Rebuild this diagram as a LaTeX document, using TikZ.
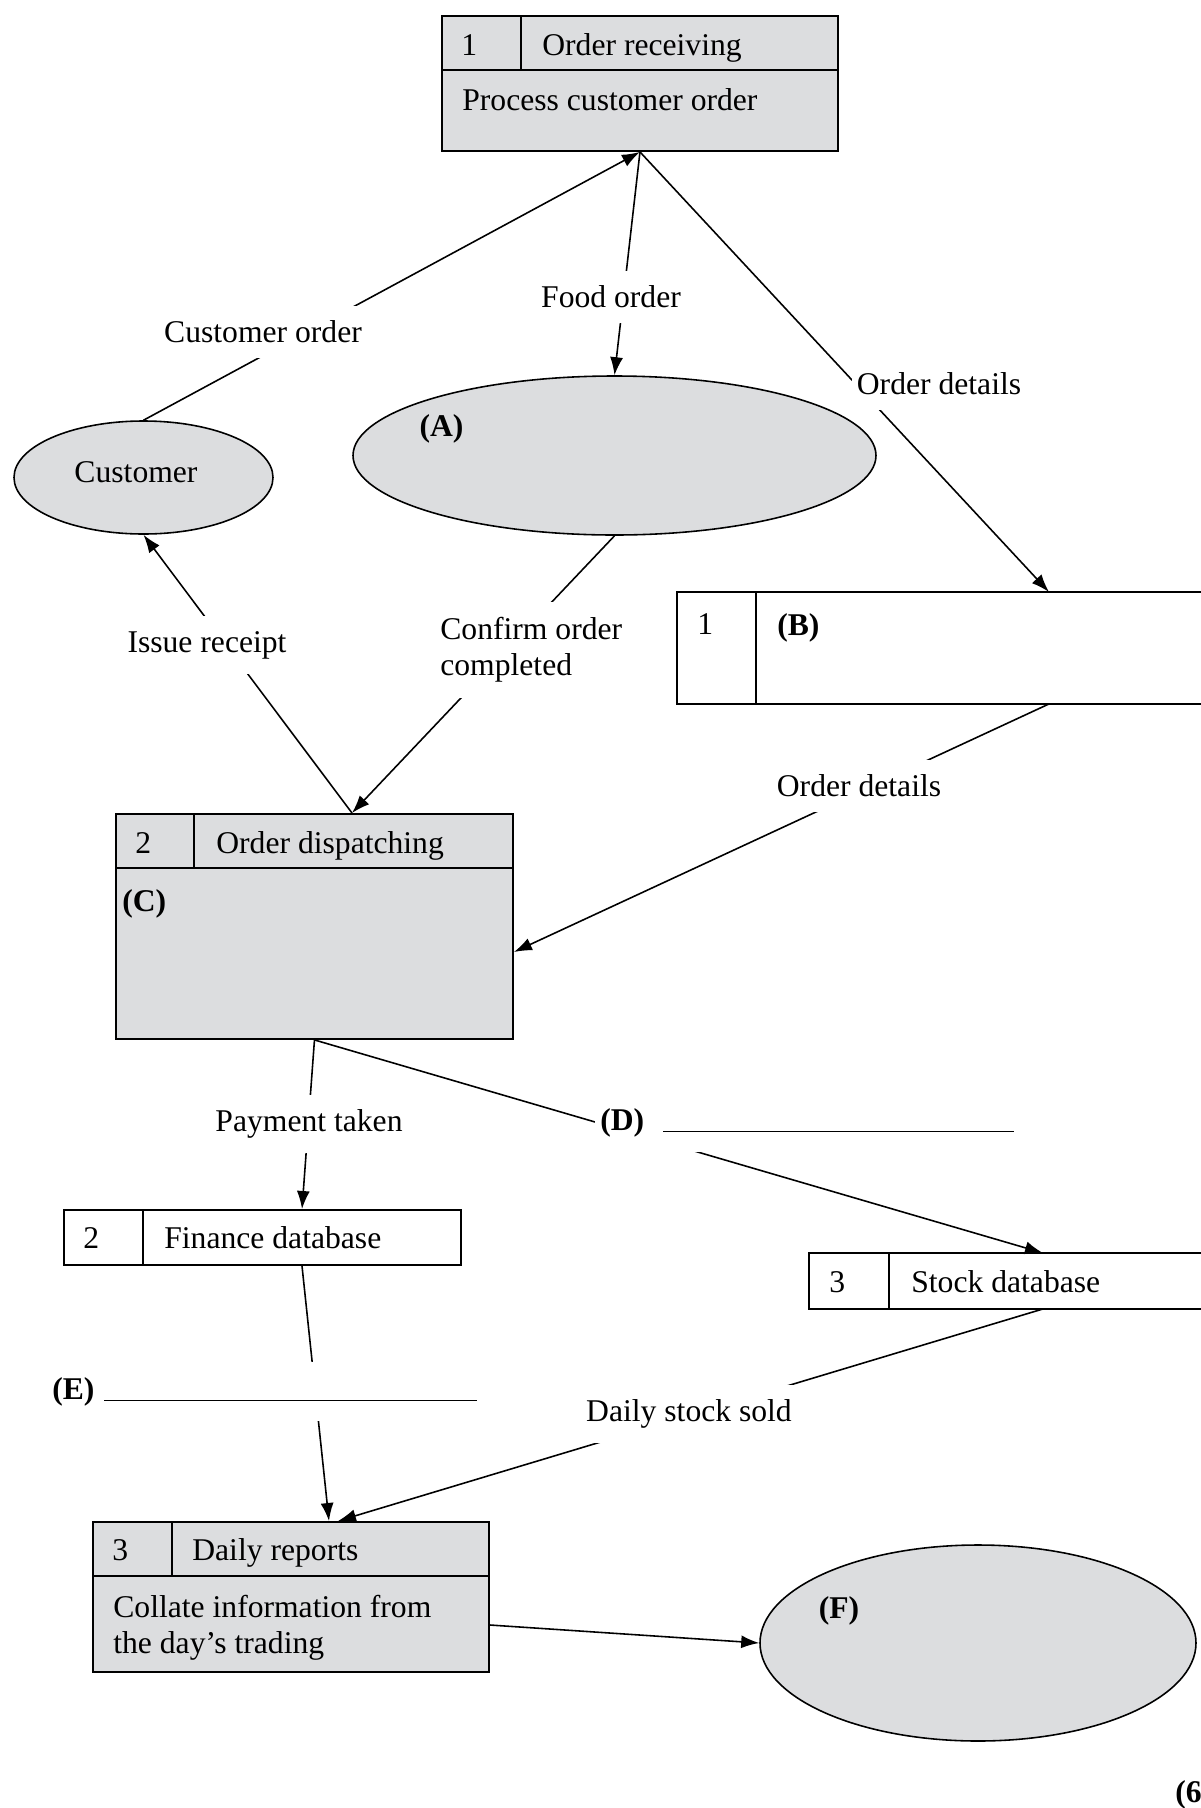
\documentclass[tikz,border=0pt]{standalone}
\usepackage{fontspec}
\setmainfont{Liberation Serif}
\usetikzlibrary{shapes.geometric,arrows.meta}
\definecolor{boxgray}{RGB}{220,221,223}
\tikzset{
  procbox/.style={draw, line width=1.1pt, fill=boxgray, inner sep=0pt, anchor=north west},
  storebox/.style={line width=1.1pt, fill=white, inner sep=0pt, anchor=north west},
  part/.style={line width=1.1pt},
  entity/.style={ellipse, draw, line width=0.9pt, fill=boxgray, inner sep=0pt},
  txt/.style={inner sep=0pt, anchor=base west},
  lbl/.style={fill=white, inner xsep=0.1cm, inner ysep=0.3cm},
  flow/.style={line width=0.9pt, -{Latex[length=0.36cm,width=0.26cm]}}
}
\begin{document}
\begin{tikzpicture}[font=\fontsize{18}{20.5}\selectfont]
\useasboundingbox (0,0) rectangle (24.02,-36.16);

% process 1
\node[procbox, minimum width=7.92cm, minimum height=2.70cm] (recv) at (8.82,-0.30) {};
\draw[part] ([yshift=-1.10cm]recv.north west) -- ([yshift=-1.10cm]recv.north east);
\draw[part] ([xshift=1.60cm]recv.north west) -- ++(0,-1.10);
\node[txt] (recvnum) at ([shift={(0.40,-0.80)}]recv.north west) {1};
\node[txt] (recvname) at ([shift={(2.02,-0.80)}]recv.north west) {Order receiving};
\node[txt] (recvdesc) at ([shift={(0.42,-1.90)}]recv.north west) {Process customer order};

% entities
\node[entity, minimum width=5.18cm, minimum height=2.26cm] (cust) at (2.87,-9.55) {};
\node[inner sep=0pt] (custtxt) at (2.72,-9.44) {Customer};
\node[entity, minimum width=10.46cm, minimum height=3.18cm] (entA) at (12.29,-9.11) {};
\node[inner sep=0pt] (entAtxt) at (8.83,-8.58) {\textbf{(A)}};

% data store 1
\node[storebox, minimum width=10.6cm, minimum height=2.20cm] (storeB) at (13.54,-11.84) {};
\draw[part] (storeB.north east) -- (storeB.north west) -- (storeB.south west) -- (storeB.south east);
\draw[part] ([xshift=1.58cm]storeB.north west) -- ([xshift=1.58cm]storeB.south west);
\node[txt] (storeBnum) at ([shift={(0.40,-0.84)}]storeB.north west) {1};
\node[txt] (storeBtxt) at ([shift={(2.00,-0.86)}]storeB.north west) {\textbf{(B)}};

% process 2
\node[procbox, minimum width=7.94cm, minimum height=4.50cm] (disp) at (2.30,-16.26) {};
\draw[part] ([yshift=-1.10cm]disp.north west) -- ([yshift=-1.10cm]disp.north east);
\draw[part] ([xshift=1.58cm]disp.north west) -- ++(0,-1.10);
\node[txt] (dispnum) at ([shift={(0.40,-0.80)}]disp.north west) {2};
\node[txt] (dispname) at ([shift={(2.02,-0.80)}]disp.north west) {Order dispatching};
\node[txt] (disptxt) at ([shift={(0.14,-1.96)}]disp.north west) {\textbf{(C)}};

% data stores 2 and 3
\node[storebox, draw, minimum width=7.94cm, minimum height=1.10cm] (fin) at (1.26,-24.18) {};
\draw[part] ([xshift=1.60cm]fin.north west) -- ([xshift=1.60cm]fin.south west);
\node[txt] (finnum) at ([shift={(0.40,-0.78)}]fin.north west) {2};
\node[txt] (finname) at ([shift={(2.02,-0.78)}]fin.north west) {Finance database};

\node[storebox, minimum width=8.4cm, minimum height=1.08cm] (stock) at (16.18,-25.06) {};
\draw[part] (stock.north east) -- (stock.north west) -- (stock.south west) -- (stock.south east);
\draw[part] ([xshift=1.60cm]stock.north west) -- ([xshift=1.60cm]stock.south west);
\node[txt] (stocknum) at ([shift={(0.40,-0.78)}]stock.north west) {3};
\node[txt] (stockname) at ([shift={(2.04,-0.78)}]stock.north west) {Stock database};

% process 3
\node[procbox, minimum width=7.92cm, minimum height=3.00cm] (rep) at (1.84,-30.42) {};
\draw[part] ([yshift=-1.10cm]rep.north west) -- ([yshift=-1.10cm]rep.north east);
\draw[part] ([xshift=1.60cm]rep.north west) -- ++(0,-1.10);
\node[txt] (repnum) at ([shift={(0.40,-0.78)}]rep.north west) {3};
\node[txt] (repname) at ([shift={(2.00,-0.78)}]rep.north west) {Daily reports};
\node[txt, anchor=west, align=left] (repdesc) at ([shift={(0.42,-2.13)}]rep.north west) {Collate information from\\the day’s trading};

\node[entity, minimum width=8.72cm, minimum height=3.92cm] (entF) at (19.56,-32.86) {};
\node[inner sep=0pt] (entFtxt) at (16.78,-32.22) {\textbf{(F)}};

% connector ends
\coordinate (dispin) at ([xshift=4.74cm]disp.north west);
\coordinate (dispside) at ([yshift=-2.78cm]disp.north east);
\coordinate (storeBin) at ([xshift=7.44cm]storeB.north west);
\coordinate (storeBout) at ([xshift=7.44cm]storeB.south west);
\coordinate (finin) at ([xshift=4.78cm]fin.north west);
\coordinate (finout) at ([xshift=4.78cm]fin.south west);
\coordinate (stockin) at ([xshift=4.68cm]stock.north west);
\coordinate (stockout) at ([xshift=4.68cm]stock.south west);
\coordinate (repin1) at ([xshift=4.74cm]rep.north west);
\coordinate (repin2) at ([xshift=4.92cm]rep.north west);
\coordinate (repout) at ([yshift=-2.08cm]rep.north east);

% flows
\draw[flow] (cust.north) -- (recv.south);
\draw[flow] (recv.south) -- (entA.north);
\draw[flow] (recv.south) -- (storeBin);
\draw[flow] (dispin) -- (cust.south);
\draw[flow] (entA.south) -- (dispin);
\draw[flow] (storeBout) -- (dispside);
\draw[flow] (disp.south) -- (finin);
\draw[flow] (disp.south) -- (stockin);
\draw[flow] (finout) -- (repin1);
\draw[flow] (stockout) -- (repin2);
\draw[flow] (repout) -- (entF.west);

% flow labels
\node[lbl] (lcust) at (5.26,-6.64) {Customer order};
\node[lbl] (lfood) at (12.22,-5.94) {Food order};
\node[lbl] (ldet1) at (18.78,-7.68) {Order details};
\node[lbl] (lrec) at (4.14,-12.90) {Issue receipt};
\node[lbl, align=left, anchor=west] (lconf) at (8.70,-13.00) {Confirm order\\completed};
\node[lbl] (ldet2) at (17.18,-15.72) {Order details};
\node[lbl] (lpay) at (6.18,-22.48) {Payment taken};
\node[lbl, anchor=base west] (lD) at (11.90,-22.60) {\textbf{(D)}\hspace{0.38cm}\rule[-0.04cm]{7.02cm}{0.8pt}};
\node[lbl, anchor=base west] (lE) at (0.94,-27.98) {\textbf{(E)}\hspace{0.19cm}\rule[-0.04cm]{7.46cm}{0.8pt}};
\node[lbl] (ldaily) at (13.78,-28.28) {Daily stock sold};

\node[inner sep=0pt, anchor=base west] (marks) at (23.50,-36.04) {\textbf{(6}};
\end{tikzpicture}
\end{document}
